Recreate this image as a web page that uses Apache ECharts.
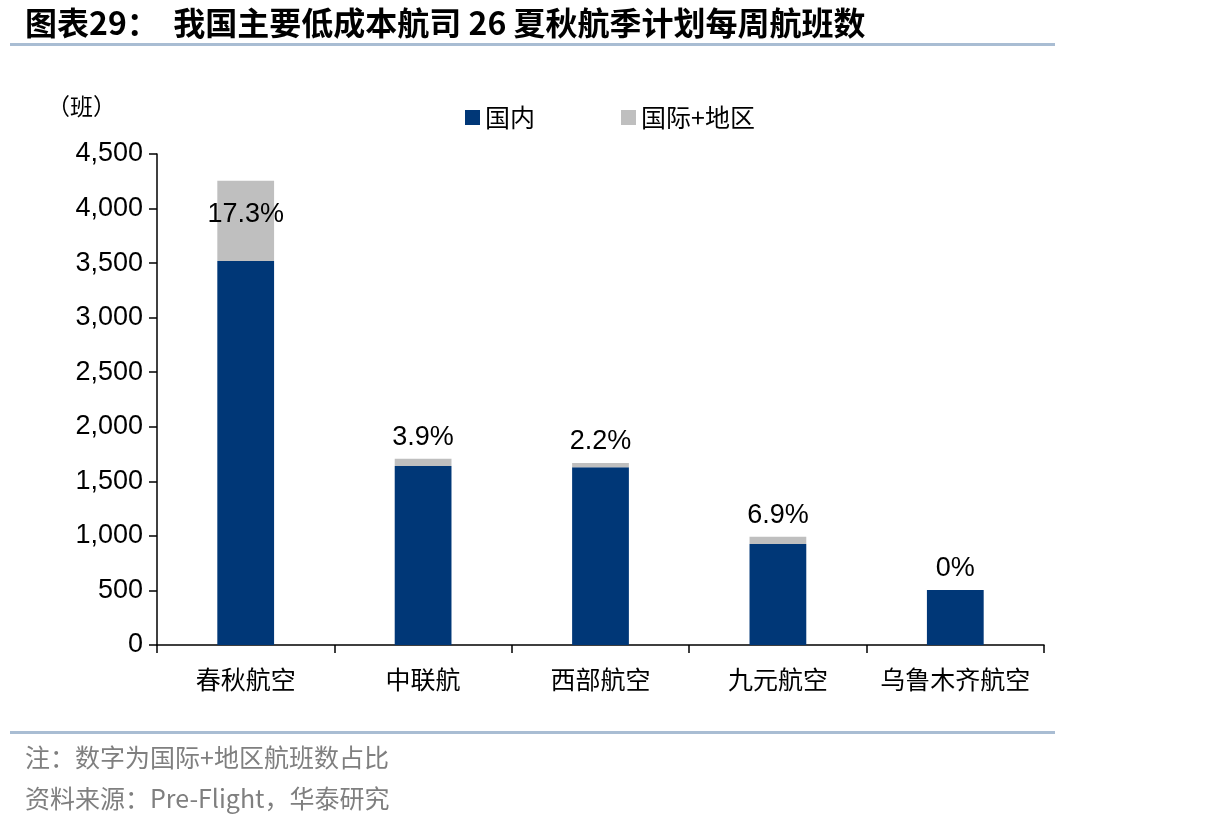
<!DOCTYPE html>
<html>
<head>
<meta charset="utf-8">
<script src="https://cdn.jsdelivr.net/npm/echarts@6/dist/echarts.min.js"></script>
<style>
  html, body { margin: 0; padding: 0; background: #fff; }
  #chart { width: 1206px; height: 828px; }
</style>
</head>
<body>
<div id="chart"></div>
<script>
// airlines and weekly flights
const airlines = ['春秋航空', '中联航', '西部航空', '九元航空', '乌鲁木齐航空']
const domestic = [3520, 1640, 1630, 925, 505]
const intl = [735, 66, 37, 68, 0]
const shareLabels = ['17.3%', '3.9%', '2.2%', '6.9%', '0%']
const yTicks = [0, 500, 1000, 1500, 2000, 2500, 3000, 3500, 4000, 4500]

const cjk = '"Noto Sans CJK SC", sans-serif'
const latin = '"Liberation Sans", Arial, sans-serif'

const chart = echarts.init(document.getElementById('chart'))

// gray series carries the percent labels; first one sits inside the bar
const intlData = intl.map((v, i) => {
  const item = { value: v }
  if (i === 0) {
    item.label = { position: 'insideTop', distance: 20 }
  }
  return item
})

chart.setOption({
  animation: false,
  title: [
    {
      text: '图表29：  我国主要低成本航司 26 夏秋航季计划每周航班数',
      left: 20, top: 2,
      textStyle: { fontFamily: cjk, fontSize: 32, fontWeight: 'bold', color: '#000' }
    },
    {
      text: '（班）',
      left: 42, top: 90,
      textStyle: { fontFamily: cjk, fontSize: 23, fontWeight: 'normal', color: '#000' }
    },
    {
      text: '注：数字为国际+地区航班数占比',
      left: 20, top: 740,
      textStyle: { fontFamily: cjk, fontSize: 25, fontWeight: 'normal', color: '#7f7f7f' }
    },
    {
      text: '资料来源：Pre-Flight，华泰研究',
      left: 20, top: 781,
      textStyle: { fontFamily: cjk, fontSize: 25, fontWeight: 'normal', color: '#7f7f7f' }
    }
  ],
  graphic: [
    { type: 'rect', shape: { x: 10, y: 43, width: 1045, height: 3 }, style: { fill: '#a9bdd3' } },
    { type: 'rect', shape: { x: 10, y: 731, width: 1045, height: 3 }, style: { fill: '#a9bdd3' } }
  ],
  legend: {
    top: 100, left: 460,
    itemWidth: 15, itemHeight: 15, itemGap: 86,
    icon: 'rect',
    textStyle: { fontFamily: cjk, fontSize: 25, color: '#000' },
    data: ['国内', '国际+地区']
  },
  grid: { left: 157, right: 162, top: 154, bottom: 183 },
  xAxis: {
    type: 'category',
    data: airlines,
    axisLine: { lineStyle: { color: '#000', width: 1.5 } },
    axisTick: { show: true, length: 8, lineStyle: { color: '#000', width: 1.5 } },
    axisLabel: { interval: 0, fontFamily: cjk, fontSize: 25, color: '#000', margin: 22 }
  },
  yAxis: {
    type: 'value',
    min: yTicks[0], max: yTicks[yTicks.length - 1], interval: 500,
    axisLine: { show: true, lineStyle: { color: '#000', width: 1.5 } },
    axisTick: { show: true, length: 8, lineStyle: { color: '#000', width: 1.5 } },
    splitLine: { show: false },
    axisLabel: {
      fontFamily: latin, fontSize: 27, color: '#000', margin: 14,
      formatter: v => v.toLocaleString('en-US')
    }
  },
  series: [
    {
      name: '国内',
      type: 'bar',
      stack: 'total',
      barWidth: '32%',
      itemStyle: { color: '#003777' },
      data: domestic
    },
    {
      name: '国际+地区',
      type: 'bar',
      stack: 'total',
      barWidth: '32%',
      itemStyle: { color: '#bfbfbf' },
      label: {
        show: true,
        position: 'top',
        distance: 8,
        fontFamily: latin, fontSize: 27, color: '#000',
        formatter: p => shareLabels[p.dataIndex]
      },
      data: intlData
    }
  ]
})
</script>
</body>
</html>
